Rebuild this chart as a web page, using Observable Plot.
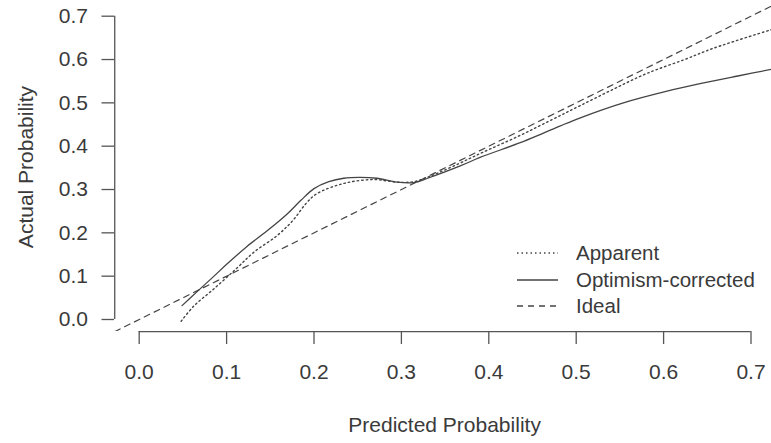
<!DOCTYPE html>
<html><head><meta charset="utf-8">
<script src="https://cdn.jsdelivr.net/npm/d3@7"></script>
<script src="https://cdn.jsdelivr.net/npm/@observablehq/plot@0.6"></script>
<style>
html,body{margin:0;padding:0;background:#fff;overflow:hidden;}
#chart svg{display:block;overflow:hidden;}
</style></head><body><div id="chart"></div>
<script>
// ---- data ----
const xTicks = [0, 0.1, 0.2, 0.3, 0.4, 0.5, 0.6, 0.7];
const yTicks = [0, 0.1, 0.2, 0.3, 0.4, 0.5, 0.6, 0.7];
const xTitle = "Predicted Probability";
const yTitle = "Actual Probability";
const seriesNames = ["Apparent", "Optimism-corrected", "Ideal"];

const apparentX = [0.048, 0.062, 0.085, 0.112, 0.131, 0.158, 0.176, 0.191, 0.203, 0.234, 0.268, 0.295, 0.314, 0.332, 0.366, 0.390, 0.436, 0.473, 0.505, 0.544, 0.581, 0.624, 0.657, 0.725];
const apparentY = [-0.004, 0.030, 0.070, 0.119, 0.155, 0.194, 0.229, 0.268, 0.290, 0.314, 0.323, 0.317, 0.318, 0.330, 0.360, 0.383, 0.425, 0.462, 0.494, 0.533, 0.568, 0.600, 0.626, 0.670];

const correctedX = [0.049, 0.065, 0.085, 0.101, 0.123, 0.146, 0.169, 0.185, 0.200, 0.217, 0.234, 0.252, 0.272, 0.295, 0.314, 0.330, 0.368, 0.390, 0.436, 0.460, 0.482, 0.504, 0.554, 0.604, 0.639, 0.685, 0.725];
const correctedY = [0.032, 0.062, 0.099, 0.129, 0.168, 0.204, 0.243, 0.275, 0.302, 0.318, 0.326, 0.328, 0.326, 0.317, 0.316, 0.326, 0.355, 0.374, 0.408, 0.428, 0.447, 0.465, 0.500, 0.527, 0.543, 0.562, 0.578];

// R's default axis extension (4% of range)
const lo = 0 - 0.04 * 0.7, hi = 0.7 + 0.04 * 0.7;
const idealX = [lo, hi];

const apparent = apparentX.map((x, i) => ({x, y: apparentY[i]}));
const corrected = correctedX.map((x, i) => ({x, y: correctedY[i]}));
const ideal = idealX.map(x => ({x, y: x}));

const FONT = "'Liberation Sans', Arial, sans-serif";
const FS = 21;
const INK = "#3a3a3a";
const LINE = "#444";

const W = 771, H = 443;
const plot = Plot.plot({
  width: W, height: H,
  marginLeft: 114, marginRight: 0, marginTop: 4, marginBottom: 112,
  style: {fontFamily: FONT, background: "#fff", color: INK, overflow: "hidden"},
  x: {domain: [0, 0.7], range: [138.7, 750.5]},
  y: {domain: [0, 0.7], range: [319, 15.7]},
  marks: [
    Plot.ruleX([lo], {y1: 0, y2: 0.7, stroke: "#555", strokeWidth: 1.3}),
    Plot.ruleY([lo], {x1: 0, x2: 0.7, stroke: "#555", strokeWidth: 1.3}),
    Plot.axisY({ticks: yTicks, tickSize: 12.5, tickPadding: 14, tickFormat: d3.format(".1f"), fontSize: FS, label: null, stroke: "#555", strokeWidth: 1.3}),
    Plot.axisX({ticks: xTicks, tickSize: 13, tickPadding: 20, tickFormat: d3.format(".1f"), fontSize: FS, label: null, stroke: "#555", strokeWidth: 1.3}),
    Plot.line(ideal, {x: "x", y: "y", stroke: LINE, strokeWidth: 1.2, strokeDasharray: "6,5", clip: true}),
    Plot.line(apparent, {x: "x", y: "y", stroke: LINE, strokeWidth: 1.4, strokeDasharray: "1.5,3", curve: "catmull-rom", clip: true}),
    Plot.line(corrected, {x: "x", y: "y", stroke: LINE, strokeWidth: 1.3, curve: "catmull-rom", clip: true})
  ]
});
document.getElementById("chart").appendChild(plot);

const svg = d3.select(plot);
svg.append("text")
  .attr("x", 444.6).attr("y", 425).attr("dy", "0.35em")
  .attr("text-anchor", "middle").attr("font-size", FS).attr("font-family", FONT).attr("fill", INK)
  .text(xTitle);
svg.append("text")
  .attr("transform", "translate(33,167) rotate(-90)")
  .attr("text-anchor", "middle").attr("font-size", FS).attr("font-family", FONT).attr("fill", INK)
  .text(yTitle);

// legend
const dashes = ["1.5,3", null, "6,5"];
const rows = [253, 280, 306];
const lg = svg.append("g").attr("text-anchor", "start");
seriesNames.forEach((name, i) => {
  lg.append("line").attr("x1", 517).attr("x2", 558).attr("y1", rows[i]).attr("y2", rows[i])
    .attr("stroke", LINE).attr("stroke-width", 1.3).attr("stroke-dasharray", dashes[i]);
  lg.append("text").attr("x", 576).attr("y", rows[i]).attr("dy", "0.35em")
    .attr("text-anchor", "start")
    .attr("font-size", 20.5).attr("font-family", FONT).attr("fill", INK).text(name);
});
</script>
</body></html>
